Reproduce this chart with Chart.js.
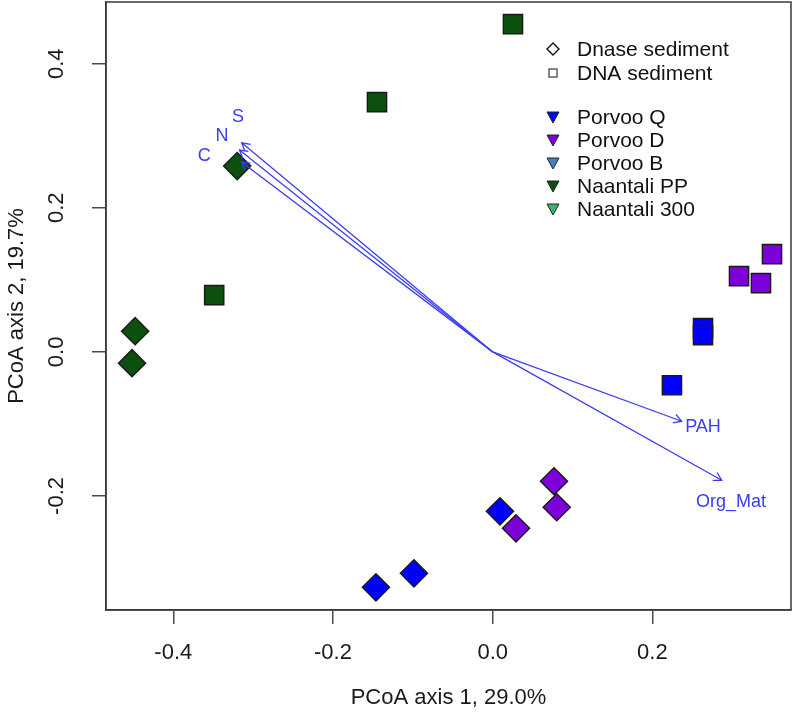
<!DOCTYPE html>
<html><head><meta charset="utf-8">
<script src="https://cdn.jsdelivr.net/npm/chart.js@4/dist/chart.umd.min.js"></script>
<style>html,body{margin:0;padding:0;background:#fff}</style>
</head><body>
<canvas id="c" width="800" height="721"></canvas>
<script>
// ---------- data ----------
const xTicks = [-0.4, -0.2, 0.0, 0.2];
const yTicks = [-0.2, 0.0, 0.2, 0.4];
const xTitle = 'PCoA axis 1, 29.0%';
const yTitle = 'PCoA axis 2, 19.7%';

const groups = ['Porvoo Q', 'Porvoo D', 'Porvoo B', 'Naantali PP', 'Naantali 300'];
const sampleTypes = ['Dnase sediment', 'DNA sediment'];

// Porvoo Q
const porvooQ_DNA_x   = [0.2634, 0.2634, 0.2245];
const porvooQ_DNA_y   = [0.0329, 0.0232, -0.0463];
const porvooQ_Dnase_x = [0.0091, -0.0986, -0.1462];
const porvooQ_Dnase_y = [-0.2213, -0.3074, -0.3268];
// Porvoo D
const porvooD_DNA_x   = [0.3085, 0.3360, 0.3498];
const porvooD_DNA_y   = [0.1051, 0.0954, 0.1357];
const porvooD_Dnase_x = [0.0768, 0.0802, 0.0292];
const porvooD_Dnase_y = [-0.1796, -0.2157, -0.2449];
// Naantali PP
const naantaliPP_DNA_x   = [0.0254, -0.1449, -0.3488];
const naantaliPP_DNA_y   = [0.4550, 0.3468, 0.0788];
const naantaliPP_Dnase_x = [-0.3200, -0.4478, -0.4517];
const naantaliPP_Dnase_y = [0.2579, 0.0288, -0.0157];

// fitted environmental vectors
const vecNames  = ['C', 'N', 'S', 'PAH', 'Org_Mat'];
const vecX      = [-0.3146, -0.3171, -0.3143, 0.2367, 0.2868];
const vecY      = [0.2635, 0.2801, 0.2903, -0.0963, -0.1782];
const vecLabelX = [-0.3613, -0.3390, -0.3189, 0.2634, 0.2985];
const vecLabelY = [0.2718, 0.2996, 0.3260, -0.1046, -0.2088];

// ---------- styles ----------
const groupColors = ['#0000ff', '#7d00d8', '#4682b4', '#0b500d', '#3cb371'];
const markerBorder = '#1a1a1a';
const arrowColor = '#3b3bf5';
const FONT = "'Liberation Sans', Arial, Helvetica, sans-serif";

function pts(xs, ys) { return xs.map((x, i) => ({ x: x, y: ys[i] })); }

const datasets = [];
vecNames.forEach((n, i) => {
  datasets.push({
    label: 'vec_' + n, data: [{ x: 0, y: 0 }, { x: vecX[i], y: vecY[i] }],
    showLine: true, borderColor: arrowColor, borderWidth: 1.3, pointRadius: 0, order: 0, isVec: true
  });
});
function addPoints(label, xs, ys, color, style) {
  datasets.push({
    label: label, data: pts(xs, ys), pointStyle: style,
    pointRadius: 13.6,
    backgroundColor: color, borderColor: markerBorder, borderWidth: 1.4,
    showLine: false, order: 1
  });
}
addPoints('Naantali PP DNA', naantaliPP_DNA_x, naantaliPP_DNA_y, groupColors[3], 'rect');
addPoints('Naantali PP Dnase', naantaliPP_Dnase_x, naantaliPP_Dnase_y, groupColors[3], 'rectRot');
addPoints('Porvoo Q DNA', porvooQ_DNA_x, porvooQ_DNA_y, groupColors[0], 'rect');
addPoints('Porvoo Q Dnase', porvooQ_Dnase_x, porvooQ_Dnase_y, groupColors[0], 'rectRot');
addPoints('Porvoo D DNA', porvooD_DNA_x, porvooD_DNA_y, groupColors[1], 'rect');
addPoints('Porvoo D Dnase', porvooD_Dnase_x, porvooD_Dnase_y, groupColors[1], 'rectRot');

const decor = {
  id: 'decor',
  afterDatasetsDraw(chart) {
    const ctx = chart.ctx, xs = chart.scales.x, ys = chart.scales.y;
    ctx.save();
    ctx.strokeStyle = arrowColor; ctx.fillStyle = arrowColor; ctx.lineWidth = 1.3;
    chart.data.datasets.forEach((ds, di) => {
      if (!ds.isVec) return;
      const meta = chart.getDatasetMeta(di);
      const p0 = meta.data[0], p1 = meta.data[1];
      const a = Math.atan2(p1.y - p0.y, p1.x - p0.x), L = 9, ang = Math.PI / 6;
      ctx.beginPath();
      ctx.moveTo(p1.x - L * Math.cos(a - ang), p1.y - L * Math.sin(a - ang));
      ctx.lineTo(p1.x, p1.y);
      ctx.lineTo(p1.x - L * Math.cos(a + ang), p1.y - L * Math.sin(a + ang));
      ctx.stroke();
    });
    ctx.font = '18px ' + FONT; ctx.textAlign = 'center'; ctx.textBaseline = 'middle';
    vecNames.forEach((n, i) => {
      ctx.fillText(n, xs.getPixelForValue(vecLabelX[i]), ys.getPixelForValue(vecLabelY[i]));
    });
    ctx.restore();
  },
  afterDraw(chart) {
    const ctx = chart.ctx, ca = chart.chartArea;
    ctx.save();
    ctx.strokeStyle = '#3a3a3a'; ctx.lineWidth = 1.5;
    ctx.strokeRect(ca.left, ca.top, ca.right - ca.left, ca.bottom - ca.top);
    // legend
    const sx = 553, tx = 577;
    const rows = [49, 73, 117, 140, 163, 186, 209];
    ctx.font = '21px ' + FONT; ctx.textAlign = 'left'; ctx.textBaseline = 'middle';
    ctx.fillStyle = '#111';
    ctx.lineWidth = 1.4; ctx.strokeStyle = '#111';
    let y = rows[0];
    ctx.beginPath(); ctx.moveTo(sx, y - 6); ctx.lineTo(sx + 6, y); ctx.lineTo(sx, y + 6); ctx.lineTo(sx - 6, y); ctx.closePath(); ctx.stroke();
    ctx.fillText(sampleTypes[0], tx, y + 1);
    y = rows[1];
    ctx.strokeStyle = '#555';
    ctx.strokeRect(sx - 4, y - 4, 8, 8);
    ctx.fillText(sampleTypes[1], tx, y + 1);
    groups.forEach((g, i) => {
      const yy = rows[2 + i];
      ctx.beginPath(); ctx.moveTo(sx - 6, yy - 5); ctx.lineTo(sx + 6, yy - 5); ctx.lineTo(sx, yy + 6); ctx.closePath();
      ctx.fillStyle = groupColors[i]; ctx.fill();
      ctx.strokeStyle = '#222'; ctx.lineWidth = 1; ctx.stroke();
      ctx.fillStyle = '#111';
      ctx.fillText(g, tx, yy + 1);
    });
    ctx.restore();
  }
};

function axisCommon(ticksArr) {
  return {
    type: 'linear',
    afterBuildTicks: s => { s.ticks = ticksArr.map(v => ({ value: v })); },
    grid: { drawOnChartArea: false, drawTicks: true, tickLength: 14, color: '#4a4a4a', lineWidth: 1.5 },
    border: { display: true, color: '#3a3a3a', width: 1.5 },
  };
}

new Chart(document.getElementById('c'), {
  type: 'scatter',
  data: { datasets: datasets },
  options: {
    responsive: false, animation: false, devicePixelRatio: 1,
    layout: { autoPadding: false, padding: { top: 2, right: 9, left: 0, bottom: 0 } },
    plugins: { legend: { display: false }, tooltip: { enabled: false } },
    scales: {
      x: Object.assign(axisCommon(xTicks), {
        min: -0.4843, max: 0.3736,
        afterFit: s => { s.height = 111; s.paddingLeft = 0; s.paddingRight = 0; s.paddingTop = 0; s.paddingBottom = 0; },
        ticks: { callback: v => v.toFixed(1), autoSkip: false, maxRotation: 0, minRotation: 0, padding: 16,
                 color: '#1a1a1a', font: { size: 22, family: FONT } },
        title: { display: true, text: xTitle, color: '#1a1a1a', font: { size: 22, family: FONT }, padding: { top: 0, bottom: 10 } }
      }),
      y: Object.assign(axisCommon(yTicks), {
        min: -0.3583, max: 0.4857,
        afterFit: s => { s.width = 106; s.paddingTop = 0; s.paddingBottom = 0; s.paddingLeft = 0; s.paddingRight = 0; },
        ticks: { callback: v => v.toFixed(1), autoSkip: false, minRotation: 90, maxRotation: 90, padding: 16, crossAlign: 'center',
                 color: '#1a1a1a', font: { size: 22, family: FONT } },
        title: { display: true, text: yTitle, color: '#1a1a1a', font: { size: 22, family: FONT }, padding: { top: 4, bottom: 0 } }
      })
    }
  },
  plugins: [decor]
});
</script>
</body></html>
